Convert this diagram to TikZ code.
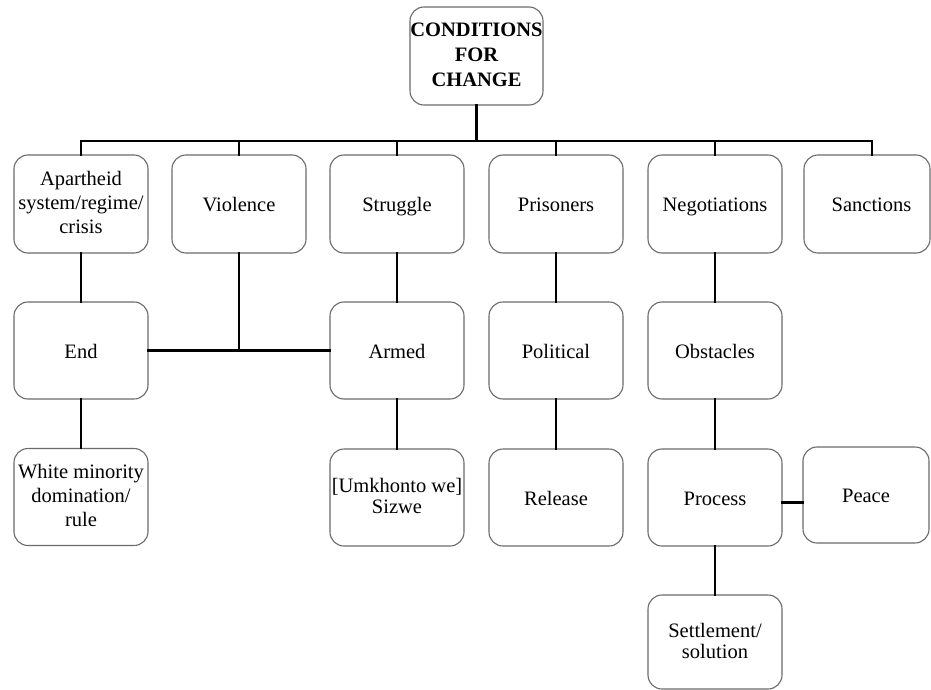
\documentclass[tikz,border=0pt]{standalone}
\usepackage{fontspec}
\setmainfont{Liberation Serif}
% vertical struts that place the text block in its box
\newcommand\boxstrut{\rule[-3pt]{0pt}{21.6pt}}
\newcommand\rootstrut{\rule[-3pt]{0pt}{25.6pt}}
\begin{document}
\begin{tikzpicture}[x=1pt,y=-1pt,
  box/.style={draw=black!58, line width=1.1pt, rounded corners=14pt, fill=white,
    align=center, inner sep=0pt, minimum width=134pt, minimum height=97pt,
    font=\fontsize{20.5}{24}\selectfont,
    execute at begin node=\boxstrut, execute at end node=\boxstrut},
  tight/.style={font=\fontsize{20.5}{21}\selectfont},
  conn/.style={line width=2.6pt, line cap=rect}]
\fill[white] (0,0) rectangle (931,690);
\useasboundingbox (0,0) rectangle (931,690);

% root
\node[box, minimum width=133pt, minimum height=98pt,
  font=\fontsize{20.5}{25}\selectfont\bfseries,
  execute at begin node=\rootstrut] (top) at (476.5,56) {CONDITIONS\\FOR\\CHANGE};

% first row
\node[box, minimum height=98pt] (apart) at (81,204) {Apartheid\\system/regime/\\crisis};
\node[box, minimum height=98pt] (viol)  at (239,204) {Violence};
\node[box, minimum height=98pt] (strug) at (397,204) {Struggle};
\node[box, minimum height=98pt] (pris)  at (556,204) {Prisoners};
\node[box, minimum height=98pt] (nego)  at (715,204) {Negotiations};
\node[box, minimum height=98pt, minimum width=126pt] (sanc) at (867,204) {\hspace*{9pt}Sanctions};

% second row
\node[box] (end)   at (81,350.5) {End};
\node[box] (armed) at (397,350.5) {Armed};
\node[box] (polit) at (556,350.5) {Political};
\node[box] (obst)  at (715,350.5) {Obstacles};

% third row
\node[box] (white)   at (81,497) {White minority\\domination/\\rule};
\node[box, tight] (umk) at (397,497.5) {[Umkhonto we]\\Sizwe};
\node[box] (release) at (556,497.5) {Release};
\node[box] (proc)    at (715,497.5) {Process};
\node[box, minimum width=126pt, minimum height=96pt] (peace) at (866,495) {Peace};

% fourth row
\node[box, tight, minimum height=94pt] (settle) at (715,642) {Settlement/\\solution};

% bus below the root
\coordinate (bus) at (476.5,141);
\coordinate (sancstub) at ([xshift=5pt]sanc.north);
\draw[conn] (top.south) -- (bus);
\draw[conn] (apart.north |- bus) -- (sancstub |- bus);
\foreach \n in {apart,viol,strug,pris,nego}
  \draw[conn] (\n.north) -- (\n.north |- bus);
\draw[conn] (sancstub) -- (sancstub |- bus);

% branches
\draw[conn] (apart.south) -- (end.north);
\draw[conn] (end.south) -- (white.north);
\draw[conn] (end.east) -- (armed.west);
\draw[conn] (viol.south) -- (viol.south |- end.east);
\draw[conn] (strug.south) -- (armed.north);
\draw[conn] (armed.south) -- (umk.north);
\draw[conn] (pris.south) -- (polit.north);
\draw[conn] (polit.south) -- (release.north);
\draw[conn] (nego.south) -- (obst.north);
\draw[conn] (obst.south) -- (proc.north);
\draw[conn] (proc.south) -- (settle.north);
\draw[conn] ([yshift=-5pt]proc.east) -- ([yshift=-5pt]proc.east -| peace.west);
\end{tikzpicture}
\end{document}
